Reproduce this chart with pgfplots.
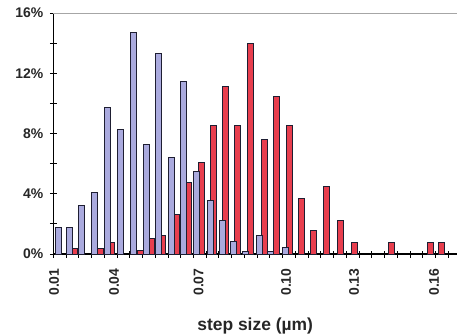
\documentclass[border=0pt]{standalone}
\usepackage{pgfplots}
\pgfplotsset{compat=1.18}
\usepackage{fontspec}
\setmainfont{Liberation Sans}
\definecolor{bluefill}{RGB}{170,170,222}
\definecolor{redfill}{RGB}{232,62,78}
\definecolor{edge}{RGB}{30,30,50}
\begin{document}
\begin{tikzpicture}
\begin{axis}[
  name=ax,
  scale only axis,
  width=403.7bp, height=241bp,
  xmin=53.3, xmax=457, ymin=0, ymax=16,
  axis x line*=bottom, axis y line*=left,
  axis line style={black, line width=1.3pt},
  x axis line style={-}, y axis line style={-},
  tick align=center,
  major tick length=7bp,
  tick style={black, line width=0.9pt},
  xtick={53.3,66.04,...,460},
  xticklabels={},
  extra x ticks={54,114,198.5,286,354,434},
  extra x tick labels={0.01,0.04,0.07,0.10,0.13,0.16},
  extra x tick style={major tick length=0pt, tick style={draw=none},
    xticklabel style={rotate=90, anchor=east, font=\fontsize{14}{16}\selectfont\bfseries, text=black!85}},
  xticklabel shift=11bp,
  ytick={0,2,...,16},
  yticklabels={0\%,,4\%,,8\%,,12\%,,16\%},
  yticklabel style={font=\fontsize{14}{16}\selectfont\bfseries, text=black!85, xshift=-3bp},
  /pgf/number format/assume math mode=true,
  xlabel={step size (µm)},
  xlabel style={font=\fontsize{17.5}{20}\selectfont\bfseries, text=black!85, yshift=-1bp},
  clip=false,
]
% red series (x = bar centre position, y = percent)
\addplot[ybar, bar width=6.0, bar shift=0pt, fill=redfill, draw=edge, line width=1pt] coordinates {
 (74.7,0.35) (100,0.35) (111.3,0.75) (140,0.2) (151.3,1.0) (162.5,1.25) (176.7,2.6)
 (188.8,4.75) (201.5,6.05) (213.3,8.5) (225,11.1) (237.8,8.5) (250.3,14.0)
 (264.3,7.6) (276.7,10.45) (289.7,8.5) (301,3.7) (313.8,1.55) (326.7,4.5)
 (340.3,2.2) (354,0.75) (391,0.75) (430,0.75) (441.7,0.75)
};
% blue series
\addplot[ybar, bar width=6.0, bar shift=0pt, fill=bluefill, draw=edge, line width=1pt] coordinates {
 (58.5,1.75) (69.7,1.75) (81.7,3.2) (94.5,4.1) (107.5,9.7) (120.3,8.25)
 (133.5,14.7) (146.3,7.3) (158,13.3) (171.7,6.4) (183.3,11.45) (196,5.5)
 (210,3.55) (222,2.25) (233,0.8) (245,0.15) (259.2,1.2) (270,0.15) (285,0.45)
};
\draw[gray!70, line width=1pt] (rel axis cs:0,1) -- (rel axis cs:1,1);
\end{axis}
\pgfresetboundingbox
\path[use as bounding box] ([xshift=-53.3bp,yshift=-82bp]ax.south west) rectangle ([yshift=13bp]ax.north east);
\end{tikzpicture}
\end{document}
